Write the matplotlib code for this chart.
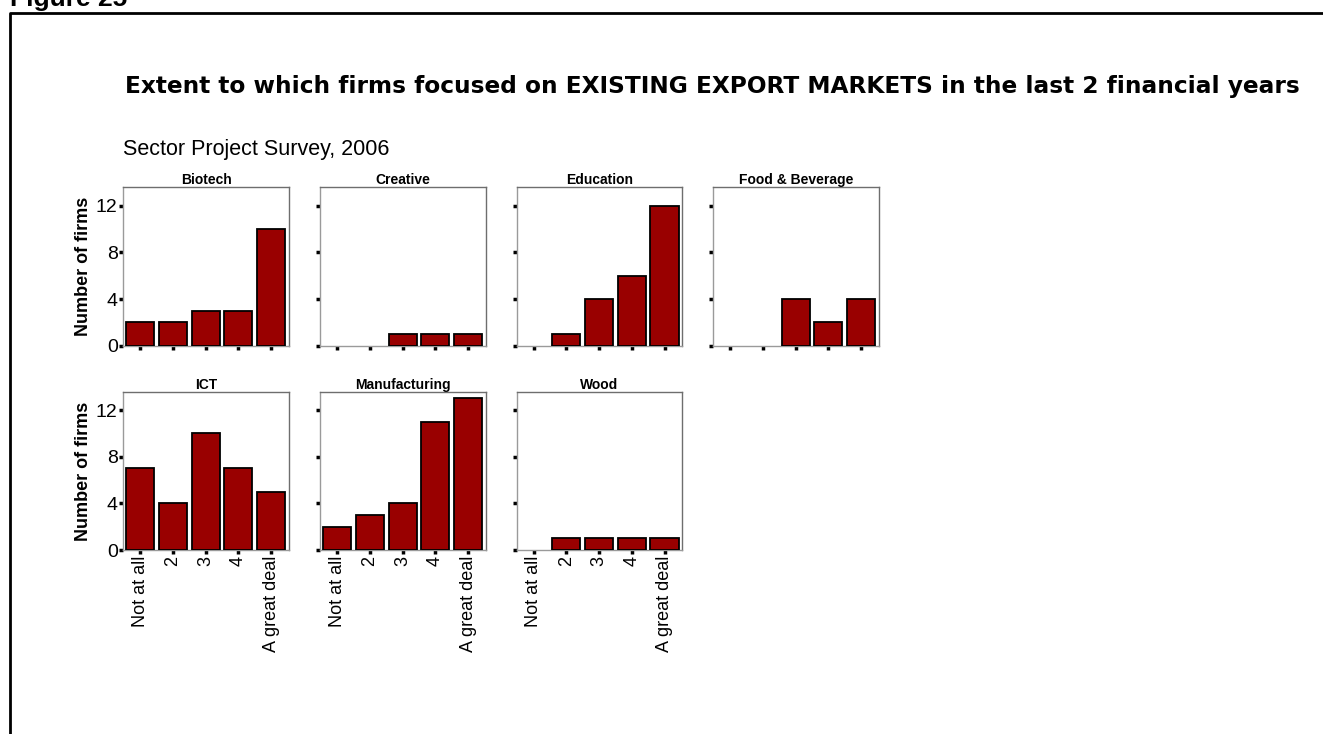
import matplotlib
matplotlib.use("Agg")
import matplotlib.pyplot as plt
from matplotlib.lines import Line2D

plt.rcParams['font.family'] = ['Liberation Sans', 'DejaVu Sans']

# survey answers, one list per sector
categories = ["Not at all", "2", "3", "4", "A great deal"]
sectors = ["Biotech", "Creative", "Education", "Food & Beverage",
           "ICT", "Manufacturing", "Wood"]
biotech = [2, 2, 3, 3, 10]
creative = [0, 0, 1, 1, 1]
education = [0, 1, 4, 6, 12]
food_beverage = [0, 0, 4, 2, 4]
ict = [7, 4, 10, 7, 5]
manufacturing = [2, 3, 4, 11, 13]
wood = [0, 1, 1, 1, 1]
counts = [biotech, creative, education, food_beverage, ict, manufacturing, wood]
yticks = [0, 4, 8, 12]

W, H = 1323, 734
fig = plt.figure(figsize=(W / 100, H / 100), dpi=100)
renderer = fig.canvas.get_renderer()

def px_axes(left, top, right, bottom):
    return fig.add_axes([left / W, 1 - bottom / H, (right - left) / W, (bottom - top) / H])

def fit_width(txt, target_px):
    # scale the font so the text spans the wanted width
    w = txt.get_window_extent(renderer).width
    txt.set_fontsize(txt.get_fontsize() * target_px / w)

# outer frame (left and top edges only show)
fig.add_artist(Line2D([10 / W, 10 / W, 1.0], [0.0, 1 - 13 / H, 1 - 13 / H],
                      transform=fig.transFigure, color='black', lw=2))

fig.text(10 / W, 1 - 6 / H, "Figure 25", fontsize=19, fontweight='bold',
         va='baseline', ha='left')
title = fig.text(125 / W, 1 - 87 / H,
                 "Extent to which firms focused on EXISTING EXPORT MARKETS in the last 2 financial years",
                 fontsize=16, fontweight='bold', va='center', ha='left',
                 family=['DejaVu Sans'])
fit_width(title, 1178)
fig.text(123 / W, 1 - 150 / H, "Sector Project Survey, 2006", fontsize=15.5,
         va='center', ha='left')

col_left = [123.3, 320.3, 516.7, 713.3]
row_top = [187.3, 391.7]
pw, ph = 165.5, 158.4

x = list(range(len(categories)))
for i, (name, vals) in enumerate(zip(sectors, counts)):
    r, c = divmod(i, 4)
    left, top = col_left[c], row_top[r]
    ax = px_axes(left, top, left + pw, top + ph)
    lws = [1.3 if v > 0 else 0 for v in vals]
    ax.bar(x, vals, width=0.86, color='#990000', edgecolor='black', linewidth=lws, zorder=3)
    ax.set_xlim(-0.52, 4.54)
    ax.set_ylim(0, 13.57)
    ax.set_yticks(yticks)
    ax.set_xticks(x)
    for s in ax.spines.values():
        s.set_color('#6e6e6e')
        s.set_linewidth(1.0)
    ax.spines['left'].set_color('#9a9a9a')
    ax.spines['bottom'].set_color('#9a9a9a')
    ax.tick_params(direction='out', length=3, width=2.5, color='black', pad=1)
    ax.tick_params(axis='y', labelsize=14)
    ax.set_title(name, fontsize=10, fontweight='bold', pad=1)
    if c == 0:
        ax.set_ylabel("Number of firms", fontsize=13, fontweight='bold', labelpad=3)
    else:
        ax.set_yticklabels([])
    if r == 1:
        ax.set_xticklabels(categories, rotation=90, fontsize=13, va='top', ha='center')
    else:
        ax.set_xticklabels([])

fig.savefig("out.png", dpi=100)
